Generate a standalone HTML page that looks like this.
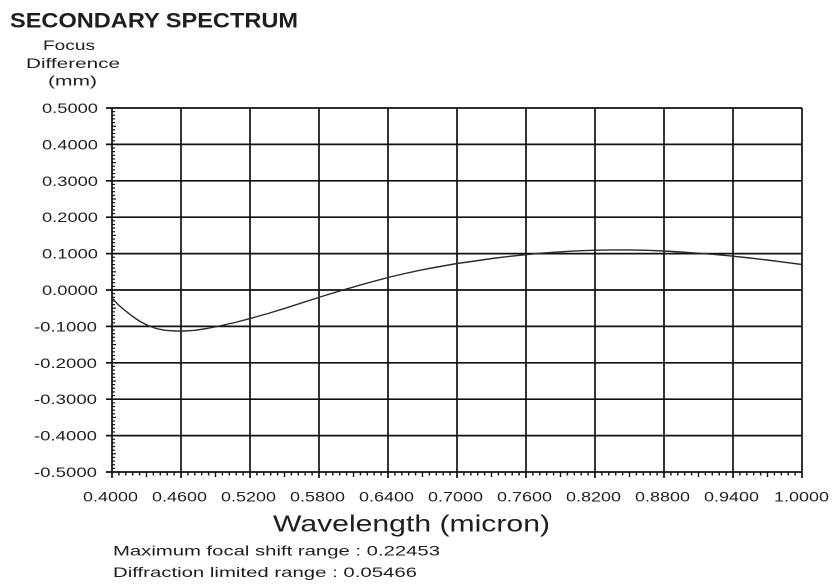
<!DOCTYPE html>
<html>
<head>
<meta charset="utf-8">
<style>
  html,body{margin:0;padding:0;background:#fff;}
  body{width:834px;height:588px;overflow:hidden;}
  svg{display:block;}
  text{font-family:"Liberation Sans","DejaVu Sans",sans-serif;fill:#1e1e1e;}
</style>
</head>
<body>
<svg width="834" height="588" viewBox="0 0 834 588" xmlns="http://www.w3.org/2000/svg">
  <!-- Title -->
  <text x="10" y="27.3" font-size="21" font-weight="bold" textLength="288" lengthAdjust="spacingAndGlyphs">SECONDARY SPECTRUM</text>

  <!-- Y axis title -->
  <text x="43" y="50" font-size="14" textLength="52" lengthAdjust="spacingAndGlyphs" fill="#333">Focus</text>
  <text x="26" y="68" font-size="14" textLength="94" lengthAdjust="spacingAndGlyphs" fill="#333">Difference</text>
  <text x="48" y="85.5" font-size="14" textLength="49" lengthAdjust="spacingAndGlyphs" fill="#333">(mm)</text>

  <!-- Grid -->
  <g stroke="#111" stroke-width="1.7" fill="none">
    <line x1="106" y1="108" x2="802" y2="108"/>
    <line x1="106" y1="144.4" x2="802" y2="144.4"/>
    <line x1="106" y1="180.8" x2="802" y2="180.8"/>
    <line x1="106" y1="217.2" x2="802" y2="217.2"/>
    <line x1="106" y1="253.6" x2="802" y2="253.6"/>
    <line x1="106" y1="290" x2="802" y2="290"/>
    <line x1="106" y1="326.4" x2="802" y2="326.4"/>
    <line x1="106" y1="362.8" x2="802" y2="362.8"/>
    <line x1="106" y1="399.2" x2="802" y2="399.2"/>
    <line x1="106" y1="435.6" x2="802" y2="435.6"/>
    <line x1="106" y1="472" x2="802" y2="472"/>
    <line x1="112" y1="108" x2="112" y2="478"/>
    <line x1="181" y1="108" x2="181" y2="478"/>
    <line x1="250" y1="108" x2="250" y2="478"/>
    <line x1="319" y1="108" x2="319" y2="478"/>
    <line x1="388" y1="108" x2="388" y2="478"/>
    <line x1="457" y1="108" x2="457" y2="478"/>
    <line x1="526" y1="108" x2="526" y2="478"/>
    <line x1="595" y1="108" x2="595" y2="478"/>
    <line x1="664" y1="108" x2="664" y2="478"/>
    <line x1="733" y1="108" x2="733" y2="478"/>
    <line x1="802" y1="108" x2="802" y2="478"/>
  </g>

  <g id="yminor" stroke="#111" stroke-width="1.2"></g>
  <g id="xminor" stroke="#111" stroke-width="1.4"></g>

  <!-- Y tick labels -->
  <g font-size="14" fill="#222">
    <text x="42" y="113" textLength="56" lengthAdjust="spacingAndGlyphs">0.5000</text>
    <text x="42" y="149.4" textLength="56" lengthAdjust="spacingAndGlyphs">0.4000</text>
    <text x="42" y="185.8" textLength="56" lengthAdjust="spacingAndGlyphs">0.3000</text>
    <text x="42" y="222.2" textLength="56" lengthAdjust="spacingAndGlyphs">0.2000</text>
    <text x="42" y="258.6" textLength="56" lengthAdjust="spacingAndGlyphs">0.1000</text>
    <text x="42" y="295" textLength="56" lengthAdjust="spacingAndGlyphs">0.0000</text>
    <text x="34" y="331.4" textLength="63" lengthAdjust="spacingAndGlyphs">-0.1000</text>
    <text x="34" y="367.8" textLength="63" lengthAdjust="spacingAndGlyphs">-0.2000</text>
    <text x="34" y="404.2" textLength="63" lengthAdjust="spacingAndGlyphs">-0.3000</text>
    <text x="34" y="440.6" textLength="63" lengthAdjust="spacingAndGlyphs">-0.4000</text>
    <text x="34" y="477" textLength="63" lengthAdjust="spacingAndGlyphs">-0.5000</text>
  </g>

  <!-- X tick labels -->
  <g font-size="14" fill="#222">
    <text x="83" y="501.5" textLength="55" lengthAdjust="spacingAndGlyphs">0.4000</text>
    <text x="152" y="501.5" textLength="55" lengthAdjust="spacingAndGlyphs">0.4600</text>
    <text x="221" y="501.5" textLength="55" lengthAdjust="spacingAndGlyphs">0.5200</text>
    <text x="290" y="501.5" textLength="55" lengthAdjust="spacingAndGlyphs">0.5800</text>
    <text x="359" y="501.5" textLength="55" lengthAdjust="spacingAndGlyphs">0.6400</text>
    <text x="428" y="501.5" textLength="55" lengthAdjust="spacingAndGlyphs">0.7000</text>
    <text x="497" y="501.5" textLength="55" lengthAdjust="spacingAndGlyphs">0.7600</text>
    <text x="566" y="501.5" textLength="55" lengthAdjust="spacingAndGlyphs">0.8200</text>
    <text x="635" y="501.5" textLength="55" lengthAdjust="spacingAndGlyphs">0.8800</text>
    <text x="704" y="501.5" textLength="55" lengthAdjust="spacingAndGlyphs">0.9400</text>
    <text x="774" y="501.5" textLength="55" lengthAdjust="spacingAndGlyphs">1.0000</text>
  </g>

  <!-- X axis title -->
  <text x="273" y="531.5" font-size="23" textLength="277" lengthAdjust="spacingAndGlyphs">Wavelength (micron)</text>

  <!-- Bottom info -->
  <text x="113" y="555.5" font-size="14" textLength="327" lengthAdjust="spacingAndGlyphs" fill="#2a2a2a">Maximum focal shift range : 0.22453</text>
  <text x="113" y="577" font-size="14" textLength="304" lengthAdjust="spacingAndGlyphs" fill="#2a2a2a">Diffraction limited range : 0.05466</text>

  <!-- Curve -->
  <polyline fill="none" stroke="#2a2a2a" stroke-width="1.4" stroke-linejoin="round" stroke-linecap="round"
    points="112,298 118,304.5 125,310.5 132,316 140,321.5 148,325.5 156,328.5 165,330.3 175,331 185,331 195,330.3 207,328.5 218,326.3 235,322.5 251,318.3 268,313.5 285,308.3 302,302.8 320,297 339,291.2 358,285.7 373,281.5 388,277.5 405,273.5 422,269.8 440,266.5 457,263.5 475,261 492,258.5 510,256.3 527,254.5 544,253 561,251.8 578,250.8 596,250.2 613,249.9 630,249.9 647,250.3 664,251 681,252 699,253.3 716,254.6 733,256.2 750,258 767,260 784,262.2 802,264.5"/>
</svg>
<script>
(function(){
  var ns="http://www.w3.org/2000/svg";
  var gy=document.getElementById("yminor");
  for(var i=0;i<100;i++){
    if(i%10===0) continue;
    var y=108+i*3.64;
    var l=document.createElementNS(ns,"line");
    l.setAttribute("x1","112");l.setAttribute("x2",(i%5===0)?"116":"115");
    l.setAttribute("y1",y);l.setAttribute("y2",y);
    gy.appendChild(l);
  }
  var gx=document.getElementById("xminor");
  for(var j=0;j<100;j++){
    if(j%10===0) continue;
    var x=112+j*6.9;
    var m=document.createElementNS(ns,"line");
    m.setAttribute("x1",x);m.setAttribute("x2",x);
    m.setAttribute("y1","472");m.setAttribute("y2",(j%5===0)?"477":"475.5");
    gx.appendChild(m);
  }
})();
</script>
</body>
</html>
